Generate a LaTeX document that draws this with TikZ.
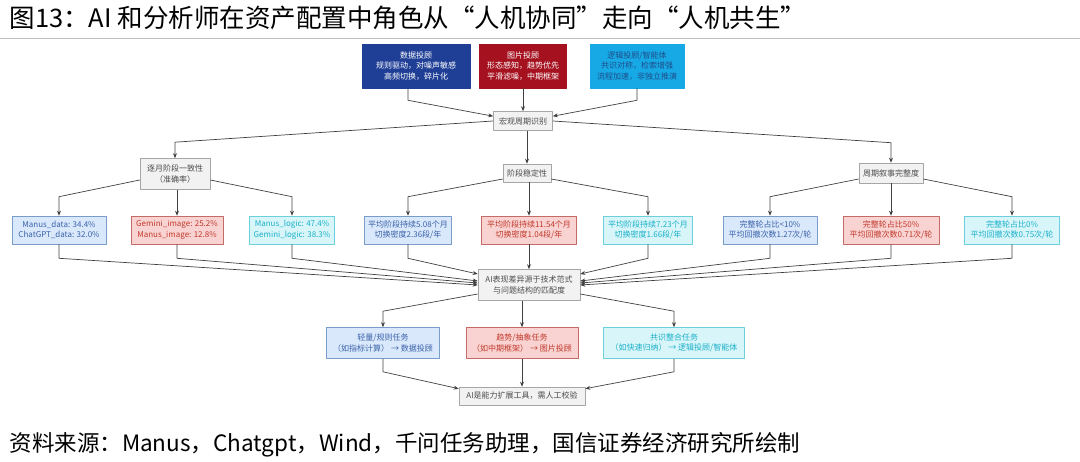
\documentclass[tikz,border=0pt]{standalone}
\usepackage{fontspec}
\setmainfont{Noto Sans CJK SC}
\usetikzlibrary{arrows.meta,calc}
\definecolor{shujuC}{HTML}{1F3F96}
\definecolor{tupianC}{HTML}{A5111F}
\definecolor{luojiC}{HTML}{17A9E5}
\definecolor{luojiT}{HTML}{1E4E8C}
\definecolor{lanF}{HTML}{DAE8FC}
\definecolor{lanD}{HTML}{7A9CCB}
\definecolor{lanT}{HTML}{3A62A7}
\definecolor{hongF}{HTML}{F9D3D2}
\definecolor{hongD}{HTML}{C46A67}
\definecolor{hongT}{HTML}{C0392B}
\definecolor{qingF}{HTML}{D8F6F9}
\definecolor{qingD}{HTML}{6BCFDC}
\definecolor{qingT}{HTML}{1BAFC9}
\begin{document}
\begin{tikzpicture}[x=1pt, y=-1pt, line join=round, >={Stealth[length=5pt,width=4pt]},
  box/.style={draw, inner sep=0pt, align=center, line width=0.6pt, font=\fontsize{8}{10.5}\selectfont},
  hui/.style={box, draw=black!35, fill=black!5, text=black!70},
  lan/.style={box, draw=lanD, fill=lanF, text=lanT},
  hong/.style={box, draw=hongD, fill=hongF, text=hongT},
  qing/.style={box, draw=qingD, fill=qingF, text=qingT},
  row/.style={minimum height=28},
  link/.style={->, draw=black!75, line width=0.7pt}]
\useasboundingbox (0,0) rectangle (1080,462);
\node[anchor=west, font=\fontsize{25.5}{28}\selectfont] (title) at (6,18) {图13：AI 和分析师在资产配置中角色从“人机协同”走向“人机共生”};
\draw[black!25, line width=1pt] (0,39) -- (1080,39);
% top
\node[box, fill=shujuC, draw=shujuC, text=white, minimum width=108, minimum height=44] (shuju) at (416,66) {数据投顾\\规则驱动，对噪声敏感\\高频切换，碎片化};
\node[box, fill=tupianC, draw=tupianC, text=white, minimum width=87, minimum height=44] (tupian) at (523,66) {图片投顾\\形态感知，趋势优先\\平滑滤噪，中期框架};
\node[box, fill=luojiC, draw=luojiC, text=luojiT, minimum width=94, minimum height=44] (luoji) at (637,66) {逻辑投顾/智能体\\共识对称，检索增强\\流程加速，非独立推演};
\node[hui, minimum width=59, minimum height=19] (hongguan) at (523,121) {宏观周期识别};
% second row
\node[hui, minimum width=70, minimum height=31] (zhunque) at (175,174) {逐月阶段一致性\\（准确率）};
\node[hui, minimum width=48, minimum height=18] (wending) at (527,173) {阶段稳定性};
\node[hui, minimum width=64, minimum height=20] (xushi) at (891,173) {周期叙事完整度};
% third row
\node[lan, row, minimum width=94] (d1) at (59,230) {Manus\_data: 34.4\%\\ChatGPT\_data: 32.0\%};
\node[hong, row, minimum width=92] (d2) at (177,230) {Gemini\_image: 25.2\%\\Manus\_image: 12.8\%};
\node[qing, row, minimum width=85] (d3) at (292,230) {Manus\_logic: 47.4\%\\Gemini\_logic: 38.3\%};
\node[lan, row, minimum width=87] (w1) at (408,230) {平均阶段持续5.08个月\\切换密度2.36段/年};
\node[hong, row, minimum width=95] (w2) at (529,230) {平均阶段持续11.54个月\\切换密度1.04段/年};
\node[qing, row, minimum width=89] (w3) at (648,230) {平均阶段持续7.23个月\\切换密度1.66段/年};
\node[lan, row, minimum width=94] (x1) at (770,230) {完整轮占比<10\%\\平均回撤次数1.27次/轮};
\node[hong, row, minimum width=96] (x2) at (891,230) {完整轮占比50\%\\平均回撤次数0.71次/轮};
\node[qing, row, minimum width=95] (x3) at (1012,230) {完整轮占比0\%\\平均回撤次数0.75次/轮};
\node[hui, minimum width=102, minimum height=31] (ai) at (529,285) {AI表现差异源于技术范式\\与问题结构的匹配度};
% fourth row
\node[lan, minimum width=113, minimum height=31] (r1) at (383,343) {轻量/规则任务\\（如指标计算） → 数据投顾};
\node[hong, minimum width=112, minimum height=31] (r2) at (522,343) {趋势/抽象任务\\（如中期框架） → 图片投顾};
\node[qing, minimum width=141, minimum height=31] (r3) at (674,343) {共识整合任务\\（如快速归纳） → 逻辑投顾/智能体};
\node[hui, minimum width=126, minimum height=18] (gongju) at (522,396) {AI是能力扩展工具，需人工校验};
% links
\draw[link] ([xshift=-8pt]shuju.south) -- ++(0,12) -- ([yshift=-5pt]hongguan.north west);
\draw[link] (tupian.south) -- (hongguan.north);
\draw[link] (luoji.south) -- ++(0,12) -- ([yshift=-5pt]hongguan.north east);
\draw[link] (hongguan.west) -- ([yshift=16pt]zhunque.north) -- (zhunque.north);
\draw[link] (hongguan.south -| wending.north) -- (wending.north);
\draw[link] (hongguan.east) -- ([yshift=20pt]xushi.north) -- (xushi.north);
\foreach \p/\a/\b/\c in {zhunque/d1/d2/d3, wending/w1/w2/w3, xushi/x1/x2/x3} {
  \draw[link] ([yshift=-6pt]\p.west) -- ([yshift=19pt]\a.north) -- (\a.north);
  \draw[link] (\p.south -| \b.north) -- (\b.north);
  \draw[link] ([yshift=-6pt]\p.east) -- ([yshift=19pt]\c.north) -- (\c.north);
}
\foreach \n/\s in {d1/0, d2/2, d3/4, w1/11}
  \draw[link] (\n.south) -- ++(0,14) -- ([yshift=\s pt]ai.west);
\foreach \n/\s in {x3/0, x2/2, x1/4, w3/11}
  \draw[link] (\n.south) -- ++(0,14) -- ([yshift=\s pt]ai.east);
\draw[link] (w2.south) -- (ai.north);
\draw[link] ([yshift=-9pt]ai.west) -- ([yshift=16pt]r1.north) -- (r1.north);
\draw[link] (ai.south -| r2.north) -- (r2.north);
\draw[link] ([yshift=-9pt]ai.east) -- ([yshift=16pt]r3.north) -- (r3.north);
\draw[link] (r1.south) -- ++(0,13) -- ([yshift=-2pt]gongju.north west);
\draw[link] (r2.south) -- (gongju.north);
\draw[link] (r3.south) -- ++(0,13) -- ([yshift=-2pt]gongju.north east);
% source
\node[anchor=west, font=\fontsize{22.5}{25}\selectfont] (laiyuan) at (6,445) {资料来源：Manus，Chatgpt，Wind，千问任务助理，国信证券经济研究所绘制};
\end{tikzpicture}
\end{document}
